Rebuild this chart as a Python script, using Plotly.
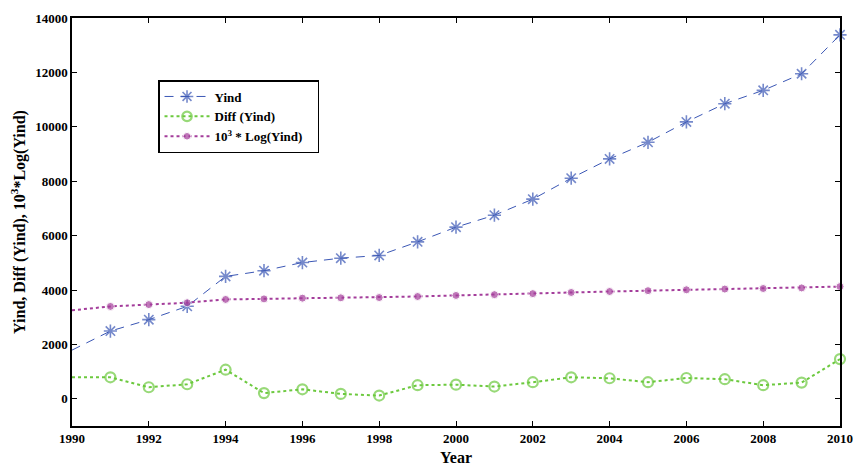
import plotly.graph_objects as go

years = list(range(1990, 2011))
yind = [1790, 2490, 2910, 3400, 4500, 4710, 5010, 5170, 5270, 5770, 6310,
        6750, 7340, 8110, 8820, 9430, 10180, 10850, 11340, 11950, 13380]
diff_yind = [790, 790, 425, 535, 1070, 210, 350, 180, 120, 500, 520,
             450, 610, 790, 755, 610, 765, 720, 500, 595, 1460]
log_yind = [3253, 3396, 3464, 3531, 3653, 3673, 3700, 3713, 3722, 3761, 3800,
            3829, 3866, 3909, 3945, 3975, 4008, 4035, 4055, 4077, 4126]
x_ticks = list(range(1990, 2011, 2))
y_ticks = list(range(0, 14001, 2000))

FONT = "Liberation Serif, Times New Roman, serif"
n = len(years)

def sizes(s):
    return [0] + [s] * (n - 1)

fig = go.Figure()
fig.add_trace(go.Scatter(
    x=years, y=yind, name="<b>Yind</b>", mode="lines+markers",
    line=dict(color="#3B57B5", width=1, dash="9px,7px"),
    marker=dict(symbol="asterisk-open", size=sizes(11), color="#3B57B5",
                line=dict(color="#3B57B5", width=1.6)),
    cliponaxis=False))
fig.add_trace(go.Scatter(
    x=years, y=diff_yind, name="<b>Diff (Yind)</b>", mode="lines+markers",
    line=dict(color="#6CC93E", width=2, dash="dot"),
    marker=dict(symbol="circle-open", size=sizes(10), color="#6CC93E",
                line=dict(color="#6CC93E", width=2.2)),
    cliponaxis=False))
fig.add_trace(go.Scatter(
    x=years, y=log_yind, name="<b>10<sup>3</sup> * Log(Yind)</b>&nbsp;&nbsp;&nbsp;",
    mode="lines+markers",
    line=dict(color="#A43D9B", width=2, dash="dot"),
    marker=dict(symbol="circle", size=sizes(8), color="#A43D9B"),
    cliponaxis=False))

fig.update_layout(
    width=853, height=468,
    margin=dict(l=72, r=13, t=18, b=42),
    plot_bgcolor="white", paper_bgcolor="white",
    font=dict(family=FONT, color="black", size=12),
    showlegend=True,
    legend=dict(x=0.112, y=0.848, xanchor="left", yanchor="top",
                bordercolor="black", borderwidth=1.5, bgcolor="white",
                font=dict(family=FONT, size=13, color="black"),
                tracegroupgap=0, itemwidth=45),
    xaxis=dict(range=[1990, 2010], tickmode="array", tickvals=x_ticks,
               ticktext=["<b>%d</b>" % v for v in x_ticks],
               showline=True, linecolor="black", linewidth=1.5, mirror="ticks",
               ticks="inside", ticklen=5, tickcolor="black", tickwidth=1,
               showgrid=False, zeroline=False, automargin=False,
               tickfont=dict(family=FONT, size=13, color="black"),
               title=dict(text="<b>Year</b>", font=dict(family=FONT, size=16), standoff=6)),
    yaxis=dict(range=[-1000, 14000], tickmode="array", tickvals=y_ticks,
               ticktext=["<b>%d</b>" % v for v in y_ticks],
               showline=True, linecolor="black", linewidth=1.5, mirror="ticks",
               ticks="inside", ticklen=5, tickcolor="black", tickwidth=1,
               showgrid=False, zeroline=False, automargin=False,
               tickfont=dict(family=FONT, size=13, color="black"),
               title=dict(text="<b>Yind, Diff (Yind), 10<sup>3</sup>*Log(Yind)</b>",
                          font=dict(family=FONT, size=16), standoff=6)),
)

fig.write_html("out.html", config={"displayModeBar": False},
               post_script="document.body.style.margin='0px';document.body.style.overflow='hidden';")
